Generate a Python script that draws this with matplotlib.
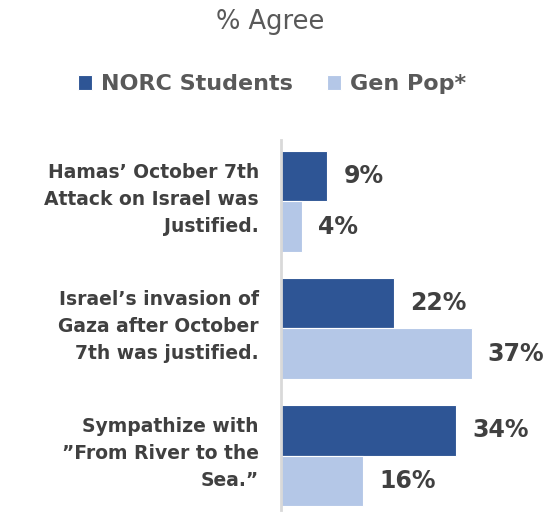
import matplotlib.pyplot as plt
import matplotlib.transforms as mtransforms
import numpy as np

categories = ["Hamas\u2019 October 7th\nAttack on Israel was\nJustified.",
              "Israel\u2019s invasion of\nGaza after October\n7th was justified.",
              "Sympathize with\n\u201dFrom River to the\nSea.\u201d"]
students = [9, 22, 34]
gen_pop = [4, 37, 16]
series_names = ['NORC Students', 'Gen Pop*']

dark = '#2E5595'
light = '#B4C7E7'
txt = '#404040'

fig = plt.figure(figsize=(5.48, 5.15), dpi=100)
ax = fig.add_axes([281 / 548, 5 / 515, 1 - 281 / 548, 370 / 515])

y = np.arange(len(categories))
h = 0.4
b1 = ax.barh(y - h / 2, students, height=h, color=dark, edgecolor='white',
             linewidth=0.8, label=series_names[0])
b2 = ax.barh(y + h / 2, gen_pop, height=h, color=light, edgecolor='white',
             linewidth=0.8, label=series_names[1])

ax.set_xlim(0, 51.8)
ax.set_ylim(2.429, -0.484)

for bars, vals in ((b1, students), (b2, gen_pop)):
    for bar, v in zip(bars, vals):
        ax.text(v + 3.1, bar.get_y() + bar.get_height() / 2, f'{v}%',
                va='center', ha='left', fontsize=17, fontweight='bold', color=txt)

ax.set_yticks(y)
ax.set_yticklabels(categories, fontsize=13.5, fontweight='bold', color=txt,
                   linespacing=1.55)
ax.tick_params(axis='y', length=0, pad=16)
# nudge the category labels up a little
offset = mtransforms.ScaledTranslation(0, 0.08, fig.dpi_scale_trans)
for lbl in ax.get_yticklabels():
    lbl.set_transform(lbl.get_transform() + offset)
ax.set_xticks([])
for s in ['top', 'right', 'bottom']:
    ax.spines[s].set_visible(False)
ax.spines['left'].set_color('#D9D9D9')
ax.spines['left'].set_linewidth(2)

fig.text(270 / 548, 1 - 22 / 515, '% Agree', ha='center', va='center',
         fontsize=18.5, color='#595959')

fig.legend(handles=[b1, b2], loc='center', bbox_to_anchor=(272 / 548, 1 - 84 / 515),
           ncol=2, frameon=False, handlelength=0.65, handleheight=0.65,
           handletextpad=0.4, columnspacing=1.5,
           prop={'size': 16, 'weight': 'bold'}, labelcolor='#595959')

fig.savefig('out.png', dpi=100)
